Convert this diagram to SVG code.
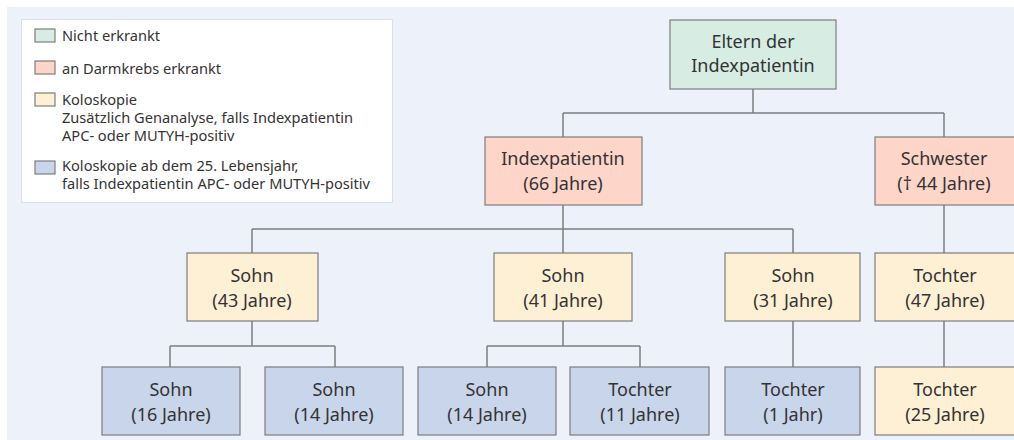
<svg xmlns="http://www.w3.org/2000/svg" width="1014" height="440" viewBox="0 0 1014 440">
<style>
.bg{fill:#edf1f9}
.lg{fill:#ffffff;stroke:#d9e0ec;stroke-width:1}
.n rect{stroke:#7d7d7d;stroke-width:1.2}
.g{fill:#d7ede4}.r{fill:#fdd5c9}.y{fill:#fdf0d5}.b{fill:#c9d5eb}
.sw{stroke:#7d7d7d;stroke-width:1.2}
text{font-family:"Noto Sans","Open Sans",sans-serif;fill:#333333}
.t{font-size:18px;text-anchor:middle}
.l{font-size:14.6px}
#connectors path{fill:none;stroke:#7d7d7d;stroke-width:1.5}
</style>
<rect x="0" y="0" width="1014" height="440" fill="#ffffff"/>
<rect class="bg" x="7" y="7" width="1007" height="433"/>
<g id="legend">
<rect class="lg" x="21.5" y="19.5" width="371" height="183"/>
<rect class="sw g" x="35" y="29" width="20" height="13"/>
<text class="l" x="62" y="41">Nicht erkrankt</text>
<rect class="sw r" x="35" y="61" width="20" height="13"/>
<text class="l" x="62" y="74">an Darmkrebs erkrankt</text>
<rect class="sw y" x="35" y="93" width="20" height="13"/>
<text class="l" x="62" y="105">Koloskopie</text>
<text class="l" x="62" y="123">Zusätzlich Genanalyse, falls Indexpatientin</text>
<text class="l" x="62" y="141">APC- oder MUTYH-positiv</text>
<rect class="sw b" x="35" y="161" width="20" height="13"/>
<text class="l" x="62" y="171">Koloskopie ab dem 25. Lebensjahr,</text>
<text class="l" x="62" y="189">falls Indexpatientin APC- oder MUTYH-positiv</text>
</g>
<g id="connectors">
<path d="M753 89V113M563 113H944M563 113V137M944 113V137"/>
<path d="M563 205V229M252 229H793M252 229V253M563 229V253M793 229V253"/>
<path d="M944 205V253"/>
<path d="M252 321V346M170 346H335M170 346V367M335 346V367"/>
<path d="M563 321V346M487 346H640M487 346V367M640 346V367"/>
<path d="M793 321V367"/>
<path d="M944 321V367"/>
</g>
<g id="eltern" class="n"><rect class="g" x="670" y="20" width="166" height="69"/><text class="t" x="753" y="48">Eltern der</text><text class="t" x="753" y="72">Indexpatientin</text></g>
<g id="indexpatientin" class="n"><rect class="r" x="485" y="137" width="157" height="68"/><text class="t" x="563" y="165">Indexpatientin</text><text class="t" x="563" y="190">(66 Jahre)</text></g>
<g id="schwester" class="n"><rect class="r" x="875" y="137" width="145" height="68"/><text class="t" x="944" y="165">Schwester</text><text class="t" x="944" y="190">(† 44 Jahre)</text></g>
<g id="sohn43" class="n"><rect class="y" x="187" y="253" width="131" height="68"/><text class="t" x="252" y="282">Sohn</text><text class="t" x="252" y="307">(43 Jahre)</text></g>
<g id="sohn41" class="n"><rect class="y" x="494" y="253" width="138" height="68"/><text class="t" x="563" y="282">Sohn</text><text class="t" x="563" y="307">(41 Jahre)</text></g>
<g id="sohn31" class="n"><rect class="y" x="725" y="253" width="135" height="68"/><text class="t" x="793" y="282">Sohn</text><text class="t" x="793" y="307">(31 Jahre)</text></g>
<g id="tochter47" class="n"><rect class="y" x="875" y="253" width="145" height="68"/><text class="t" x="945" y="282">Tochter</text><text class="t" x="945" y="307">(47 Jahre)</text></g>
<g id="sohn16" class="n"><rect class="b" x="102" y="367" width="138" height="68"/><text class="t" x="171" y="396">Sohn</text><text class="t" x="171" y="421">(16 Jahre)</text></g>
<g id="sohn14a" class="n"><rect class="b" x="265" y="367" width="138" height="68"/><text class="t" x="334" y="396">Sohn</text><text class="t" x="334" y="421">(14 Jahre)</text></g>
<g id="sohn14b" class="n"><rect class="b" x="418" y="367" width="138" height="68"/><text class="t" x="487" y="396">Sohn</text><text class="t" x="487" y="421">(14 Jahre)</text></g>
<g id="tochter11" class="n"><rect class="b" x="570" y="367" width="139" height="68"/><text class="t" x="640" y="396">Tochter</text><text class="t" x="640" y="421">(11 Jahre)</text></g>
<g id="tochter1" class="n"><rect class="b" x="725" y="367" width="135" height="68"/><text class="t" x="793" y="396">Tochter</text><text class="t" x="793" y="421">(1 Jahr)</text></g>
<g id="tochter25" class="n"><rect class="y" x="875" y="367" width="145" height="68"/><text class="t" x="945" y="396">Tochter</text><text class="t" x="945" y="421">(25 Jahre)</text></g>
</svg>
